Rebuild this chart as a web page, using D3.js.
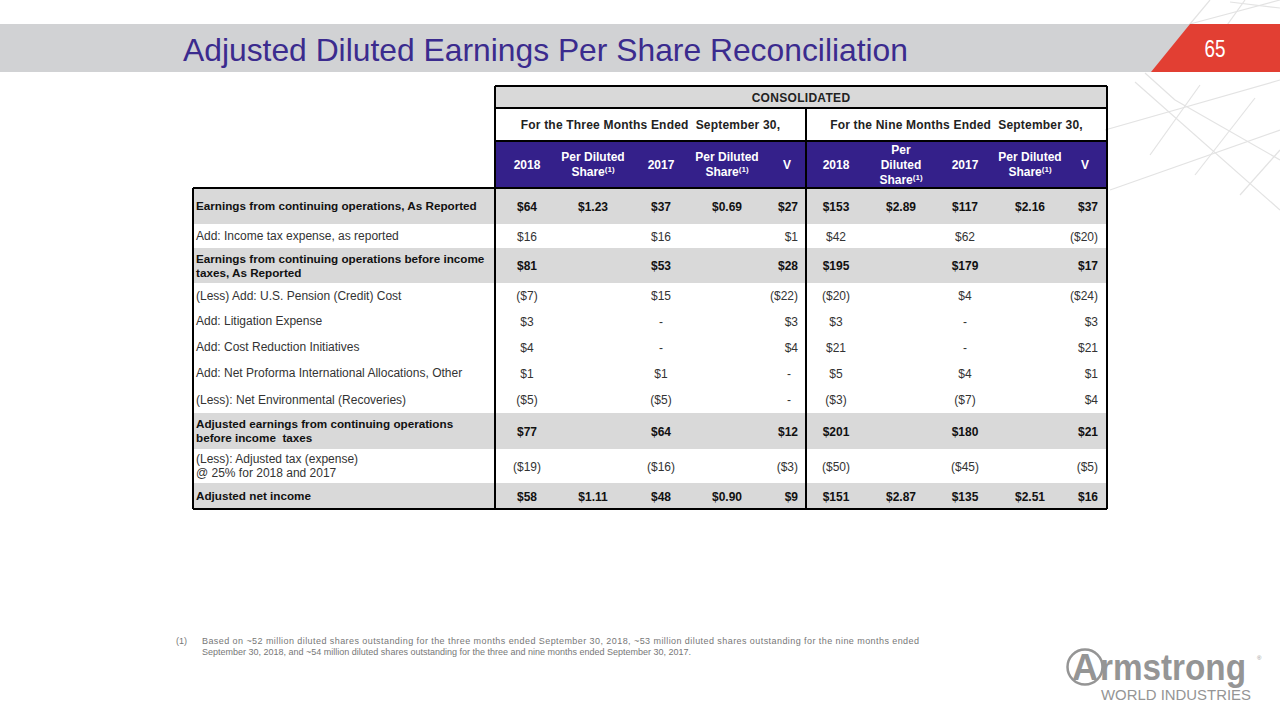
<!DOCTYPE html>
<html><head><meta charset="utf-8">
<script src="https://cdn.jsdelivr.net/npm/d3@7"></script>
<style>
html,body{margin:0;padding:0;background:#fff;}
svg{display:block;}
text{font-family:"Liberation Sans",Arial,sans-serif;}
</style></head>
<body>
<svg id="c" width="1280" height="720"></svg>
<script>
// ---------- DATA ----------
const titleText = "Adjusted Diluted Earnings Per Share Reconciliation";
const pageNumber = "65";
const groupTitle = "CONSOLIDATED";
const periodLabels = ["For the Three Months Ended  September 30,", "For the Nine Months Ended  September 30,"];
const columnHeaders = ["2018", "Per Diluted|Share", "2017", "Per Diluted|Share", "V",
                       "2018", "Per|Diluted|Share", "2017", "Per Diluted|Share", "V"];
const rowLabels = [
  "Earnings from continuing operations, As Reported",
  "Add: Income tax expense, as reported",
  "Earnings from continuing operations before income|taxes, As Reported",
  "(Less) Add: U.S. Pension (Credit) Cost",
  "Add: Litigation Expense",
  "Add: Cost Reduction Initiatives",
  "Add: Net Proforma International Allocations, Other",
  "(Less): Net Environmental (Recoveries)",
  "Adjusted earnings from continuing operations|before income  taxes",
  "(Less): Adjusted tax (expense)|@ 25% for 2018 and 2017",
  "Adjusted net income"
];
const boldRows = [true, false, true, false, false, false, false, false, true, false, true];
// values in $ millions (null = "-", undefined = blank); per-share in $
const threeMonth2018   = [64, 16, 81, -7, 3, 4, 1, -5, 77, -19, 58];
const threeMonthPS2018 = [1.23, , , , , , , , , , 1.11];
const threeMonth2017   = [37, 16, 53, 15, null, null, 1, -5, 64, -16, 48];
const threeMonthPS2017 = [0.69, , , , , , , , , , 0.90];
const threeMonthVar    = [27, 1, 28, -22, 3, 4, null, null, 12, -3, 9];
const nineMonth2018    = [153, 42, 195, -20, 3, 21, 5, -3, 201, -50, 151];
const nineMonthPS2018  = [2.89, , , , , , , , , , 2.87];
const nineMonth2017    = [117, 62, 179, 4, null, null, 4, -7, 180, -45, 135];
const nineMonthPS2017  = [2.16, , , , , , , , , , 2.51];
const nineMonthVar     = [37, -20, 17, -24, 3, 21, 1, 4, 21, -5, 16];
const footnoteMark = "(1)";
const footnoteLines = [
  "Based on ~52 million diluted shares outstanding for the three months ended September 30, 2018, ~53 million diluted shares outstanding for the nine months ended",
  "September 30, 2018, and ~54 million diluted shares outstanding for the three and nine months ended September 30, 2017."
];

// ---------- LAYOUT ----------
const purple = "#34208a", titleColor = "#3b2b8e", grayRow = "#d9d9d9", red = "#e23f33";
const svg = d3.select("#c");

const columns = [threeMonth2018, threeMonthPS2018, threeMonth2017, threeMonthPS2017, threeMonthVar,
                 nineMonth2018, nineMonthPS2018, nineMonth2017, nineMonthPS2017, nineMonthVar];
const colKind = ["amt","ps","amt","ps","var","amt","ps","amt","ps","var"];
const colIdx = d3.range(columns.length);
const xCol = d3.scaleOrdinal().domain(colIdx).range([527, 593, 661, 727, 787, 836, 901, 965, 1030, 1085]);
const xVarRight = d3.scaleOrdinal().domain([4, 9]).range([798, 1098]);

const tableL = 193, tableR = 1107, labelR = 495, midX = 806;
const rowEdges = [188, 224, 248, 283, 308, 334, 360, 386, 413, 449, 483, 509];
const yRow = d3.scaleOrdinal().domain(d3.range(rowLabels.length)).range(rowEdges.slice(0, -1));
const hRow = i => rowEdges[i + 1] - rowEdges[i];

// ---------- BACKGROUND DECOR ----------
const deco = svg.append("g").attr("stroke", "#e3e3e3").attr("stroke-width", 1.2).attr("fill", "none");
const decoLines = [
  [1210,0,1185,30],[1245,0,1195,70],[1230,2,1280,8],[1190,24,1280,0],
  [1135,82,1280,210],[1105,130,1280,80],[1110,190,1280,130],[1150,155,1200,85],
  [1195,175,1255,98],[1240,195,1280,150],[1175,100,1280,160],[1145,73,1175,100]
];
deco.selectAll("line").data(decoLines).join("line")
  .attr("x1", d => d[0]).attr("y1", d => d[1]).attr("x2", d => d[2]).attr("y2", d => d[3]);

// ---------- TITLE BAND ----------
svg.append("rect").attr("x", 0).attr("y", 24).attr("width", 1192).attr("height", 48).attr("fill", "#d1d2d4");
svg.append("polygon").attr("points", "1190,24 1280,24 1280,72 1151,72").attr("fill", red);
svg.append("text").attr("x", 183).attr("y", 61).attr("font-size", 32).attr("fill", titleColor)
  .attr("textLength", 725).attr("lengthAdjust", "spacingAndGlyphs").text(titleText);
svg.append("text").attr("x", 1215).attr("y", 57).attr("text-anchor", "middle").attr("font-size", 23)
  .attr("fill", "#fff").attr("textLength", 21).attr("lengthAdjust", "spacingAndGlyphs").text(pageNumber);

// ---------- TABLE BACKGROUNDS ----------
const t = svg.append("g");
t.append("rect").attr("x", labelR).attr("y", 86).attr("width", tableR - labelR).attr("height", 22).attr("fill", grayRow);
t.append("rect").attr("x", labelR).attr("y", 141).attr("width", tableR - labelR).attr("height", 47).attr("fill", purple);
t.selectAll("rect.rowbg").data(rowLabels.map((d, i) => i).filter(i => boldRows[i])).join("rect")
  .attr("class", "rowbg").attr("x", tableL).attr("y", i => yRow(i)).attr("width", tableR - tableL)
  .attr("height", i => hRow(i)).attr("fill", grayRow);

// ---------- HEADERS ----------
t.append("text").attr("x", (labelR + tableR) / 2).attr("y", 102).attr("text-anchor", "middle")
  .attr("font-size", 12).attr("font-weight", "bold").attr("fill", "#222").attr("letter-spacing", 0.3).text(groupTitle);
t.selectAll("text.period").data(periodLabels).join("text").attr("class", "period")
  .attr("x", (d, i) => i === 0 ? (labelR + midX) / 2 : (midX + tableR) / 2).attr("y", 129)
  .attr("text-anchor", "middle").attr("font-size", 12).attr("fill", "#222").attr("font-weight", "bold")
  .attr("letter-spacing", 0.2).style("white-space", "pre").text(d => d);

columnHeaders.forEach((h, c) => {
  const lines = h.split("|");
  const lh = 15;
  const y0 = 164.5 - (lines.length - 1) * lh / 2 + 4;
  const txt = t.append("text").attr("text-anchor", "middle").attr("font-size", 12)
    .attr("font-weight", "bold").attr("fill", "#fff");
  lines.forEach((ln, k) => {
    txt.append("tspan").attr("x", xCol(c)).attr("y", y0 + k * lh).text(ln);
    if (ln === "Share") {
      txt.append("tspan").attr("font-size", 8).attr("dy", -4).text("(1)");
    }
  });
});

// ---------- ROWS ----------
const fmt = (v, kind) => {
  if (v === undefined) return "";
  if (v === null) return "-";
  const s = kind === "ps" ? d3.format(".2f")(Math.abs(v)) : d3.format("d")(Math.abs(v));
  return v < 0 ? "($" + s + ")" : "$" + s;
};

rowLabels.forEach((lab, r) => {
  const bold = boldRows[r];
  const lines = lab.split("|");
  const cy = yRow(r) + hRow(r) / 2;
  const lh = 14;
  const txt = t.append("text").attr("font-size", bold ? 11.7 : 12).attr("font-weight", bold ? "bold" : "normal")
    .attr("fill", bold ? "#111" : "#333").style("white-space", "pre");
  lines.forEach((ln, k) => {
    txt.append("tspan").attr("x", 196).attr("y", cy + 4 - (lines.length - 1) * lh / 2 + k * lh).text(ln);
  });
  colIdx.forEach(c => {
    const s = fmt(columns[c][r], colKind[c]);
    if (!s) return;
    const isVar = colKind[c] === "var";
    const right = isVar && s !== "-";
    t.append("text")
      .attr("x", right ? xVarRight(c) : (isVar ? xVarRight(c) - 9 : xCol(c)))
      .attr("y", cy + 4.5)
      .attr("text-anchor", right ? "end" : "middle")
      .attr("font-size", 12).attr("font-weight", bold ? "bold" : "normal")
      .attr("fill", bold ? "#111" : "#333").text(s);
  });
});

// ---------- BORDERS ----------
const b = svg.append("g").attr("stroke", "#000").attr("stroke-width", 2).attr("fill", "none");
const borderLines = [
  [labelR, 86, tableR, 86], [labelR, 108, tableR, 108], [labelR, 141, tableR, 141],
  [tableL, 188, tableR, 188], [tableL, 509, tableR, 509],
  [tableL, 188, tableL, 509], [labelR, 86, labelR, 509], [midX, 108, midX, 509], [tableR, 86, tableR, 509]
];
b.selectAll("line").data(borderLines).join("line")
  .attr("x1", d => d[0]).attr("y1", d => d[1]).attr("x2", d => d[2]).attr("y2", d => d[3]);

// ---------- FOOTNOTE ----------
const fn = svg.append("g").attr("font-size", 9).attr("fill", "#777");
fn.append("text").attr("x", 176).attr("y", 644).text(footnoteMark);
fn.append("text").attr("x", 202).attr("y", 644).attr("textLength", 717).attr("lengthAdjust", "spacing").text(footnoteLines[0]);
fn.append("text").attr("x", 202).attr("y", 655).text(footnoteLines[1]);

// ---------- LOGO ----------
const logo = svg.append("g").attr("fill", "#959595");
logo.append("circle").attr("cx", 1085).attr("cy", 667).attr("r", 17.5).attr("fill", "none")
  .attr("stroke", "#959595").attr("stroke-width", 2.5);
logo.append("text").attr("x", 1085).attr("y", 680).attr("text-anchor", "middle").attr("font-size", 36)
  .attr("font-weight", "bold").text("A");
logo.append("text").attr("x", 1100).attr("y", 680).attr("font-size", 36).attr("font-weight", "bold")
  .attr("textLength", 146).attr("lengthAdjust", "spacingAndGlyphs").text("rmstrong");
logo.append("text").attr("x", 1101).attr("y", 700).attr("font-size", 14.5)
  .attr("textLength", 150).attr("lengthAdjust", "spacingAndGlyphs").text("WORLD INDUSTRIES");
logo.append("text").attr("x", 1257).attr("y", 660).attr("font-size", 6).text("®");
</script>
</body></html>
